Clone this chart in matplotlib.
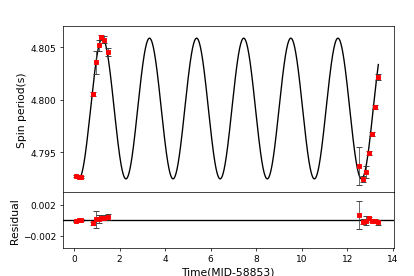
import matplotlib
matplotlib.use('Agg')
import matplotlib.pyplot as plt
import numpy as np

# measured spin periods (days since MJD 58853)
t_obs = [0.10, 0.22, 0.30, 0.82, 0.97, 1.08, 1.20, 1.33, 1.48,
         12.54, 12.70, 12.82, 12.97, 13.09, 13.22, 13.36]
p_obs = [4.7927, 4.7926, 4.7926, 4.80054, 4.80356, 4.80519, 4.80595, 4.80575, 4.80455,
         4.79371, 4.79247, 4.79313, 4.79489, 4.79673, 4.79934, 4.80220]
p_err = [0.0001, 0.0001, 0.0001, 0.0002, 0.0011, 0.0005, 0.0002, 0.0003, 0.0004,
         0.0018, 0.0003, 0.0006, 0.0002, 0.0002, 0.0002, 0.0003]
resid = [-0.00017, -0.00005, 0.0, -0.0004, 0.0001, 0.0001, 0.0002, 0.0003, 0.0004,
         0.0006, -0.0002, -0.0001, 0.0002, -0.0001, -0.0001, -0.0003]

# orbital fit parameters
P0 = 4.79917
amp = 0.00671
Porb = 2.07
t_peak = 1.245

tt = np.linspace(0.1, 13.37, 2000)
model = P0 + amp*np.cos(2*np.pi*(tt - t_peak)/Porb)

fig = plt.figure(figsize=(6.4, 4.272), dpi=64.84)
ax1 = fig.add_axes([0.151, 0.303, 0.798, 0.598])
ax2 = fig.add_axes([0.151, 0.101, 0.798, 0.202], sharex=ax1)

ax1.plot(tt, model, color='black', lw=1.5)
ax1.errorbar(t_obs, p_obs, yerr=p_err, fmt='s', color='red', ms=3.5,
             ecolor='#333333', elinewidth=0.8, capsize=3, zorder=3)
ax1.set_ylim(4.7912, 4.8070)
ax1.set_yticks([4.795, 4.800, 4.805])
ax1.set_yticklabels(['4.795', '4.800', '4.805'])
ax1.set_ylabel('Spin period(s)', fontsize=12)
plt.setp(ax1.get_xticklabels(), visible=False)

ax2.axhline(0, color='black', lw=1.5)
ax2.errorbar(t_obs, resid, yerr=p_err, fmt='s', color='red', ms=3.5,
             ecolor='#333333', elinewidth=0.8, capsize=3, zorder=3)
ax2.set_ylim(-0.0036, 0.0036)
ax2.set_yticks([-0.002, 0.002])
ax2.set_yticklabels(['\u22120.002', '0.002'])
ax2.set_xlim(-0.5, 14.05)
ax2.set_xticks([0, 2, 4, 6, 8, 10, 12, 14])
ax2.set_xlabel('Time(MJD-58853)', fontsize=12)
ax2.set_ylabel('Residual', fontsize=12)

fig.savefig('out.png', dpi=64.84)
